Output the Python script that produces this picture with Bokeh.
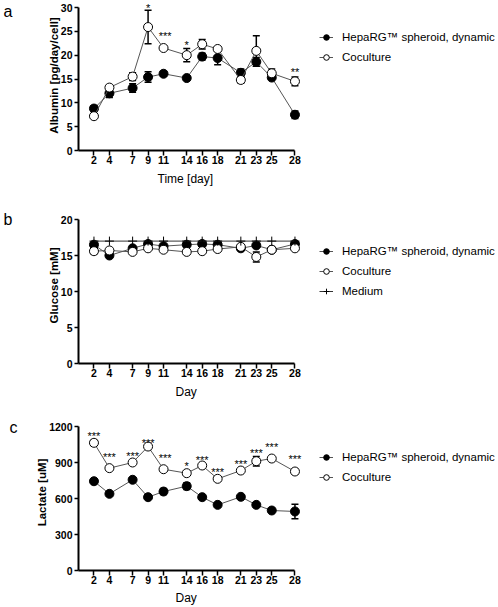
from bokeh.plotting import figure
from bokeh.models import (Range1d, FixedTicker, Whisker, TeeHead, ColumnDataSource,
                          Legend, LegendItem, Label, Title)
from bokeh.layouts import column, row
from bokeh.embed import file_html
from bokeh.resources import INLINE

# ---------------- data ----------------
days = [2, 4, 7, 9, 11, 14, 16, 18, 21, 23, 25, 28]
day_labels = ["2", "4", "7", "9", "11", "14", "16", "18", "21", "23", "25", "28"]

series_names = ["HepaRG\u2122 spheroid, dynamic", "Coculture", "Medium"]

# panel a: albumin [pg/day/cell]
alb_hepa = [8.8, 12.0, 13.1, 15.4, 16.1, 15.2, 19.7, 19.4, 16.3, 18.6, 15.3, 7.5]
alb_hepa_err = [0.6, 0.9, 0.9, 1.1, 0.5, 0.2, 0.7, 1.4, 0.8, 0.9, 0.3, 0.8]
alb_co = [7.2, 13.2, 15.5, 25.9, 21.5, 20.0, 22.3, 21.3, 14.8, 20.9, 16.2, 14.5]
alb_co_err = [0.2, 0.5, 0.8, 3.5, 0.2, 1.4, 1.0, 0.3, 0.7, 3.2, 0.9, 0.9]
alb_star_x = [9, 11.2, 14, 28]
alb_star_y = [30.3, 24.5, 22.6, 16.8]
alb_star_t = ["*", "***", "*", "**"]
alb_yticks = [0, 5, 10, 15, 20, 25, 30]

# panel b: glucose [mM]
glu_hepa = [16.5, 15.0, 16.0, 16.6, 16.3, 16.5, 16.6, 16.5, 16.0, 16.4, 15.8, 16.6]
glu_hepa_err = [0.3, 0.2, 0.2, 0.2, 0.2, 0.2, 0.2, 0.2, 0.3, 0.2, 0.2, 0.2]
glu_co = [15.6, 15.7, 15.5, 16.0, 15.8, 15.5, 15.6, 15.9, 16.2, 14.8, 15.8, 16.0]
glu_co_err = [0.4, 0.1, 0.1, 0.1, 0.2, 0.1, 0.1, 0.1, 0.1, 0.7, 0.1, 0.1]
glu_medium = [17.0, 17.0, 17.0, 17.0, 17.0, 17.0, 17.0, 17.0, 17.0, 17.0, 17.0, 17.0]
glu_yticks = [0, 5, 10, 15, 20]

# panel c: lactate [uM]
lac_hepa = [744, 639, 756, 611, 658, 703, 611, 547, 614, 547, 500, 492]
lac_hepa_err = [8, 8, 8, 8, 25, 28, 8, 8, 8, 8, 8, 60]
lac_co = [1064, 853, 900, 1033, 844, 811, 875, 764, 833, 911, 933, 825]
lac_co_err = [22, 8, 8, 8, 8, 8, 8, 8, 8, 40, 8, 22]
lac_star_x = [2, 4, 7, 9, 11.2, 14, 16, 18, 21, 23, 25, 28]
lac_star_y = [1139, 964, 972, 1078, 953, 889, 936, 839, 903, 994, 1042, 950]
lac_star_t = ["***", "***", "***", "***", "***", "*", "***", "***", "***", "***", "***", "***"]
lac_yticks = [0, 300, 600, 900, 1200]

FONT = "Liberation Sans"
LINE_COL = "#555555"


def letter_fig(height, letter, lx, ly):
    f = figure(width=20, height=height, output_backend="svg", toolbar_location=None,
               x_range=Range1d(0, 20), y_range=Range1d(0, height),
               x_axis_location=None, y_axis_location=None,
               min_border_left=0, min_border_right=0, min_border_top=0, min_border_bottom=0)
    f.outline_line_color = None
    f.grid.visible = False
    f.add_layout(Label(x=lx, y=ly, text=letter, text_align="left",
                       text_baseline="alphabetic", text_font=FONT,
                       text_font_size="16px", text_color="black"))
    return f


def make_panel(height, mbb, ymax, ytop, yticks, ylabel, xlabel, xlabel_off, title_standoff,
               series, medium, stars, legend_xy):
    p = figure(width=478, height=height, output_backend="svg", toolbar_location=None,
               x_range=Range1d(0, 54.33), y_range=Range1d(0, ytop),
               min_border_left=58, min_border_right=0,
               min_border_top=0, min_border_bottom=mbb)
    p.outline_line_color = None
    p.grid.visible = False
    p.background_fill_color = "white"
    p.border_fill_color = "white"

    for ax in (p.xaxis[0], p.yaxis[0]):
        ax.axis_line_color = "black"
        ax.axis_line_width = 2
        ax.major_tick_line_color = "black"
        ax.major_tick_line_width = 1.5
        ax.minor_tick_line_color = None
        ax.major_tick_in = 0
        ax.major_label_text_font = FONT
        ax.major_label_text_font_style = "bold"
        ax.major_label_text_font_size = "10.5px"
        ax.major_label_text_color = "black"
        ax.axis_label_text_font = FONT
        ax.axis_label_text_color = "black"

    xa = p.xaxis[0]
    xa.ticker = FixedTicker(ticks=days)
    xa.major_label_overrides = {d: s for d, s in zip(days, day_labels)}
    xa.bounds = (0, 28)
    xa.major_tick_out = 5
    xa.major_label_standoff = 0

    # x-axis title, centred under the 0-28 axis line (frame extends for the legend)
    p.add_layout(Title(text=xlabel, align="left", offset=xlabel_off, standoff=title_standoff,
                       text_font=FONT, text_font_size="12px", text_font_style="normal",
                       text_color="black"), "below")

    ya = p.yaxis[0]
    ya.ticker = FixedTicker(ticks=yticks)
    ya.bounds = (0, ymax)
    ya.major_tick_out = 4
    ya.major_label_standoff = 2
    ya.axis_label = ylabel
    ya.axis_label_text_font_style = "bold"
    ya.axis_label_text_font_size = "11.5px"
    ya.axis_label_standoff = -2

    items = []
    for name, vals, errs, filled in series:
        src = ColumnDataSource(dict(
            x=days, y=vals,
            lo=[v - e for v, e in zip(vals, errs)],
            hi=[v + e for v, e in zip(vals, errs)]))
        ln = p.line("x", "y", source=src, line_color=LINE_COL, line_width=1)
        w = Whisker(source=src, base="x", upper="hi", lower="lo", dimension="height",
                    line_color="black", line_width=1.5,
                    upper_head=TeeHead(size=7, line_color="black", line_width=1.5),
                    lower_head=TeeHead(size=7, line_color="black", line_width=1.5))
        p.add_layout(w)
        sc = p.scatter("x", "y", source=src, size=9, marker="circle",
                       fill_color="black" if filled else "white",
                       line_color="black", line_width=1)
        items.append(LegendItem(label=name, renderers=[ln, sc]))

    if medium is not None:
        msrc = ColumnDataSource(dict(x=days, y=medium))
        ml = p.line("x", "y", source=msrc, line_color="#333333", line_width=1)
        ms = p.scatter("x", "y", source=msrc, size=9, marker="cross",
                       line_color="black", line_width=1)
        items.append(LegendItem(label=series_names[2], renderers=[ml, ms]))

    sx, sy, st = stars
    for x, y, t in zip(sx, sy, st):
        p.add_layout(Label(x=x, y=y, text=t, text_align="center", text_baseline="middle",
                           text_font=FONT, text_font_size="11px", text_color="black",
                           y_offset=-2))

    leg = Legend(items=items, location=legend_xy, orientation="vertical",
                 padding=0, margin=0, spacing=1, label_height=19,
                 glyph_width=14, glyph_height=14, label_standoff=9,
                 label_text_font=FONT, label_text_font_size="11.5px",
                 label_text_color="black",
                 background_fill_alpha=0, border_line_alpha=0)
    p.add_layout(leg, "center")
    return p


pa = make_panel(207, 57, 30, 31.47, alb_yticks, "Albumin [pg/day/cell]", "Time [day]", 79, 6,
                [(series_names[0], alb_hepa, alb_hepa_err, True),
                 (series_names[1], alb_co, alb_co_err, False)],
                None, (alb_star_x, alb_star_y, alb_star_t), (241, 84))

pb = make_panel(207, 51, 20, 21.667, glu_yticks, "Glucose [mM]", "Day", 97, 6,
                [(series_names[0], glu_hepa, glu_hepa_err, True),
                 (series_names[1], glu_co, glu_co_err, False)],
                glu_medium, ([], [], []), (241, 63))

pc = make_panel(193, 37, 1200, 1300, lac_yticks, "Lactate [uM]", "Day", 97, 4,
                [(series_names[0], lac_hepa, lac_hepa_err, True),
                 (series_names[1], lac_co, lac_co_err, False)],
                None, (lac_star_x, lac_star_y, lac_star_t), (241, 84))

la = letter_fig(207, "a", 3, 192.3)
lb = letter_fig(207, "b", 3, 191)
lc = letter_fig(193, "c", 9, 176.3)

layout = column(row(la, pa, spacing=0), row(lb, pb, spacing=0), row(lc, pc, spacing=0),
                spacing=0)
open("out.html", "w").write(file_html(layout, INLINE))
